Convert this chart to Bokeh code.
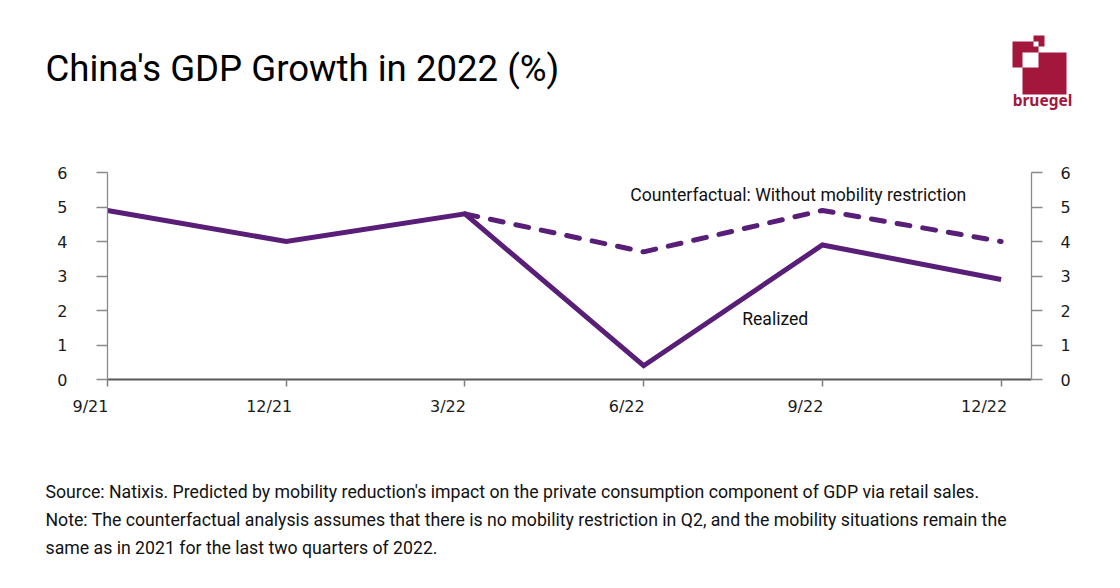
from bokeh.plotting import figure
from bokeh.layouts import column
from bokeh.models import (Range1d, LinearAxis, FixedTicker, Label, LabelSet,
                          ColumnDataSource, BoxAnnotation, CustomJSTickFormatter)
from bokeh.embed import file_html
from bokeh.resources import INLINE
from bokeh.core.properties import value

# ---------------- data ----------------
quarters = ["9/21", "12/21", "3/22", "6/22", "9/22", "12/22"]
realized = [4.9, 4.0, 4.8, 0.4, 3.9, 2.9]
counterfactual_quarters = ["3/22", "6/22", "9/22", "12/22"]
counterfactual = [4.8, 3.7, 4.9, 4.0]
y_ticks = [0, 1, 2, 3, 4, 5, 6]

title_text = "China's GDP Growth in 2022 (%)"
footer_lines = [
    "Source: Natixis. Predicted by mobility reduction's impact on the private consumption component of GDP via retail sales.",
    "Note: The counterfactual analysis assumes that there is no mobility restriction in Q2, and the mobility situations remain the",
    "same as in 2021 for the last two quarters of 2022.",
]
cf_label = "Counterfactual: Without mobility restriction"
re_label = "Realized"

# ---------------- styling / layout ----------------
PURPLE = "#581e78"
CRIMSON = "#a3173d"
TICK_FONT = "DejaVu Sans"
TEXT_FONT = "Roboto"
W = 1112
FRAME_L, FRAME_R = 107, 1031
X_END = 5.17
PX_PER = (FRAME_R - FRAME_L) / X_END
Y_PX = 207 / 6
BL = 0.33  # baseline correction (fraction of font size)

pos = {q: i for i, q in enumerate(quarters)}
x_real = [pos[q] for q in quarters]
x_cf = [pos[q] for q in counterfactual_quarters]


def no_align(fig):
    if "frame_align" in fig.properties():
        fig.frame_align = False


# ---------------- header (title + logo) ----------------
HH = 150
head = figure(width=W, height=HH, output_backend="svg", toolbar_location=None,
              x_range=Range1d(0, W), y_range=Range1d(0, HH),
              x_axis_location=None, y_axis_location=None, min_border=0,
              outline_line_color=None, background_fill_color="white",
              border_fill_color="white")
head.grid.visible = False
no_align(head)
TS = 36.6
head.add_layout(Label(x=45, y=HH - 80 + BL * TS, text=title_text, text_font=TEXT_FONT,
                      text_font_size=f"{TS}px", text_baseline="alphabetic",
                      text_color="#000000"))


def box(l, r, t, b, color):
    head.add_layout(BoxAnnotation(left=l, right=r, top=HH - t, bottom=HH - b,
                                  fill_color=color, fill_alpha=1.0, line_color=None))


box(1012, 1038, 41, 67, CRIMSON)
box(1033, 1044, 35, 46, CRIMSON)
box(1022, 1066, 52, 94, CRIMSON)
box(1022, 1038, 52, 67, "white")
box(1033, 1038, 41, 46, "white")
LS = 15.5
head.add_layout(Label(x=1042, y=HH - 105 + BL * LS, text="bruegel", text_align="center",
                      text_baseline="alphabetic", text_font="Noto Sans",
                      text_font_style="bold", text_font_size=f"{LS}px",
                      text_color=CRIMSON))

# ---------------- main chart ----------------
MT, MB = 150, 395  # page y range of this figure
p = figure(width=W, height=MB - MT, output_backend="svg", toolbar_location=None,
           x_range=Range1d(0, X_END), y_range=Range1d(0, 6),
           min_border_left=FRAME_L, min_border_right=W - FRAME_R,
           min_border_top=172 - MT, min_border_bottom=MB - 379,
           outline_line_color=None, background_fill_color="white",
           border_fill_color="white")
p.xgrid.visible = False
p.ygrid.visible = False
no_align(p)

xa = p.xaxis[0]
xa.ticker = FixedTicker(ticks=x_real)
xa.formatter = CustomJSTickFormatter(code="return ''")
xa.major_label_text_font_size = "1px"
xa.major_label_standoff = 0
xa.axis_line_color = "#595959"
xa.axis_line_width = 2
xa.major_tick_out = 7
xa.major_tick_in = 0
xa.major_tick_line_color = "#7f7f7f"
xa.major_tick_line_width = 1.5
xa.minor_tick_line_color = None

ya = p.yaxis[0]
ya.ticker = FixedTicker(ticks=y_ticks)
ra = LinearAxis(ticker=FixedTicker(ticks=y_ticks))
p.add_layout(ra, "right")
for ax, standoff in [(ya, 29), (ra, 18)]:
    ax.axis_line_color = "#8a8a8a"
    ax.axis_line_width = 1.3
    ax.major_tick_out = 11
    ax.major_tick_in = 0
    ax.major_tick_line_color = "#8a8a8a"
    ax.major_tick_line_width = 1.3
    ax.minor_tick_line_color = None
    ax.major_label_text_font = TICK_FONT
    ax.major_label_text_font_size = "16px"
    ax.major_label_text_color = "#1a1a1a"
    ax.major_label_standoff = standoff

p.line(x_real, realized, line_color=PURPLE, line_width=5, line_join="miter")
p.line(x_cf, counterfactual, line_color=PURPLE, line_width=5,
       line_dash="13 13", line_cap="round", line_join="round")

AS = 17.6
p.add_layout(Label(x=3.865, y=5.18, y_offset=BL * AS, text=cf_label, text_align="center",
                   text_baseline="alphabetic", text_font=TEXT_FONT,
                   text_font_size=f"{AS}px", text_color="#111111"))
p.add_layout(Label(x=3.551, y=1.576, y_offset=BL * AS, text=re_label, text_align="left",
                   text_baseline="alphabetic", text_font=TEXT_FONT,
                   text_font_size=f"{AS}px", text_color="#111111"))

# ---------------- footer: x tick labels + notes ----------------
FT, FB = MB, 584
FH = FB - FT
foot = figure(width=W, height=FH, output_backend="svg", toolbar_location=None,
              x_range=Range1d(-FRAME_L / PX_PER, (W - FRAME_L) / PX_PER),
              y_range=Range1d(0, FH),
              x_axis_location=None, y_axis_location=None, min_border=0,
              outline_line_color=None, background_fill_color="white",
              border_fill_color="white")
foot.grid.visible = False
no_align(foot)

lab_src = ColumnDataSource(dict(x=x_real, lab=quarters))
foot.add_layout(LabelSet(x="x", y=FB - 415 + 4, y_units="screen", text="lab",
                         source=lab_src, x_offset=-17, text_align="center",
                         text_baseline="alphabetic", text_font=value(TICK_FONT),
                         text_font_size="16px", text_color="#1a1a1a"))

FS = 17.7
for i, line in enumerate(footer_lines):
    foot.add_layout(Label(x=45, y=FB - (497.3 + 28.2 * i) + BL * FS, x_units="screen",
                          y_units="screen", text=line, text_font=TEXT_FONT,
                          text_font_size=f"{FS}px", text_baseline="alphabetic",
                          text_color="#111111"))

layout = column(head, p, foot, spacing=0)
open("out.html", "w").write(file_html(layout, INLINE))
